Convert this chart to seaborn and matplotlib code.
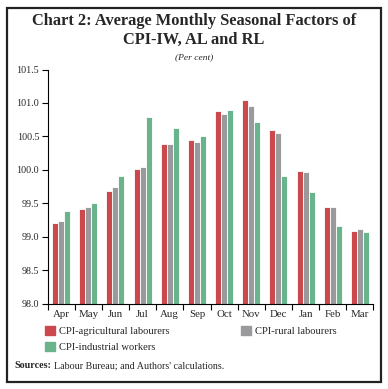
import pandas as pd
import matplotlib
matplotlib.use("Agg")
import matplotlib.pyplot as plt
import seaborn as sns
from matplotlib.patches import Rectangle, Patch

# ---------------- Data ----------------
months = ["Apr", "May", "Jun", "Jul", "Aug", "Sep", "Oct", "Nov", "Dec", "Jan", "Feb", "Mar"]
cpi_al = [99.21, 99.42, 99.68, 100.01, 100.38, 100.44, 100.88, 101.04, 100.59, 99.98, 99.45, 99.08]
cpi_rl = [99.24, 99.44, 99.75, 100.04, 100.39, 100.42, 100.83, 100.95, 100.55, 99.96, 99.45, 99.12]
cpi_iw = [99.39, 99.50, 99.90, 100.79, 100.62, 100.50, 100.89, 100.71, 99.91, 99.67, 99.16, 99.07]
series = ["CPI-agricultural labourers", "CPI-rural labourers", "CPI-industrial workers"]
colors = ["#CB484C", "#9A9A9C", "#69B48D"]

df = pd.DataFrame({"month": months, series[0]: cpi_al, series[1]: cpi_rl, series[2]: cpi_iw})
long = df.melt(id_vars="month", var_name="series", value_name="value")

sns.set_style("white")
plt.rcParams["font.family"] = ["Liberation Serif", "DejaVu Serif"]

fig = plt.figure(figsize=(3.88, 3.89), dpi=100)
ax = fig.add_axes([47.5 / 388, 1 - 303.5 / 389, 326 / 388, 234 / 389])

sns.barplot(data=long, x="month", y="value", hue="series", palette=colors,
            width=0.66, saturation=1, edgecolor="white", linewidth=0.6, ax=ax, legend=False)

# bars start from the axis floor (98.0)
for p in ax.patches:
    top = p.get_y() + p.get_height()
    p.set_y(98.0)
    p.set_height(top - 98.0)

ax.set_ylim(98.0, 101.5)
ax.set_xlim(-0.5, 11.5)
ax.set_yticks([98.0, 98.5, 99.0, 99.5, 100.0, 100.5, 101.0, 101.5])
ax.set_yticklabels([f"{v:.1f}" for v in ax.get_yticks()])
ax.set_xlabel("")
ax.set_ylabel("")

# group separators as ticks on x
ax.set_xticks([i - 0.5 for i in range(13)], minor=True)
ax.tick_params(axis="x", which="minor", length=4, width=0.8, direction="out", color="black", bottom=True)
ax.tick_params(axis="x", which="major", length=0, labelsize=7.8, pad=5)
ax.tick_params(axis="y", length=4, width=0.8, direction="out", color="black", labelsize=7.2, pad=2, left=True)

for s in ["top", "right"]:
    ax.spines[s].set_visible(False)
for s in ["left", "bottom"]:
    ax.spines[s].set_color("black")
    ax.spines[s].set_linewidth(0.8)
    ax.spines[s].set_zorder(5)

# ---------------- Text ----------------
fig.text(0.5, 1 - 21 / 389, "Chart 2: Average Monthly Seasonal Factors of", ha="center", va="center",
         fontsize=11.8, fontweight="bold")
fig.text(0.5, 1 - 40 / 389, "CPI-IW, AL and RL", ha="center", va="center",
         fontsize=11.8, fontweight="bold")
fig.text(0.5, 1 - 57 / 389, "(Per cent)", ha="center", va="center", fontsize=6.8, style="italic")

handles = [Patch(color=c) for c in colors]
fig.legend(handles[:2], series[:2], loc="upper left", bbox_to_anchor=(45 / 388, 1 - 326 / 389),
           ncol=2, frameon=False, fontsize=7.6, handlelength=0.9, handleheight=0.9,
           handletextpad=0.4, columnspacing=6.8, borderaxespad=0, borderpad=0)
fig.legend(handles[2:], series[2:], loc="upper left", bbox_to_anchor=(45 / 388, 1 - 342 / 389),
           frameon=False, fontsize=7.6, handlelength=0.9, handleheight=0.9,
           handletextpad=0.4, borderaxespad=0, borderpad=0)

fig.text(14 / 388, 1 - 366 / 389, "Sources:", ha="left", va="center",
         fontsize=7.2, fontweight="bold")
fig.text(54 / 388, 1 - 366 / 389, "Labour Bureau; and Authors' calculations.",
         ha="left", va="center", fontsize=7.2)

# outer frame
fig.patches.append(Rectangle((7 / 388, 7 / 389), 374 / 388, 374 / 389, transform=fig.transFigure,
                             fill=False, edgecolor="#222222", linewidth=1.6))

fig.savefig("out.png", dpi=100)
